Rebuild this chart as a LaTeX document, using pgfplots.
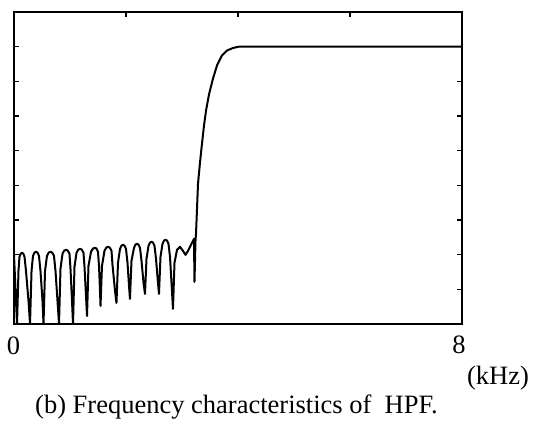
\documentclass[border=0pt]{standalone}
\usepackage{pgfplots}
\pgfplotsset{compat=1.18}
\usepackage{fontspec}
\setmainfont{Liberation Serif}
\begin{document}
\begin{tikzpicture}
\useasboundingbox (0,0) rectangle (533bp,421bp);
\begin{axis}[
  scale only axis,
  width=448bp, height=312bp,
  at={(14bp,97bp)}, anchor=south west,
  xmin=0, xmax=8, ymin=0, ymax=9,
  xtick={2,4,6}, xticklabels={},
  ytick={1,2,3,4,5,6,7,8}, yticklabels={},
  xtick pos=upper, ytick pos=both,
  tick align=inside,
  major tick length=5bp,
  axis line style={line width=2bp},
  every tick/.style={black, line width=1.5bp},
  clip=true,
]
\addplot[black, line width=2bp, line join=round] coordinates {
(0,1.994) (0.036,0.665) (0.054,0) (0.080,1.532) (0.098,1.936) (0.120,2.030) (0.143,2.052) (0.166,2.030) (0.188,1.936) (0.214,1.532) (0.259,0.665) (0.286,0)
(0.313,1.532) (0.339,1.965) (0.366,2.060) (0.393,2.081) (0.420,2.060) (0.446,1.965) (0.473,1.532) (0.509,0.665) (0.527,0)
(0.554,1.532) (0.589,1.965) (0.620,2.060) (0.652,2.081) (0.683,2.060) (0.714,1.965) (0.741,1.532) (0.777,0.665) (0.804,0)
(0.830,1.590) (0.866,2.023) (0.897,2.118) (0.929,2.139) (0.960,2.118) (0.991,2.023) (1.009,1.590) (1.036,0.665) (1.054,0)
(1.080,1.647) (1.116,2.052) (1.148,2.147) (1.179,2.168) (1.210,2.147) (1.241,2.052) (1.259,1.647) (1.286,0.809) (1.304,0.231)
(1.330,1.676) (1.375,2.081) (1.410,2.176) (1.446,2.197) (1.473,2.176) (1.500,2.081) (1.518,1.676) (1.536,0.954) (1.545,0.520)
(1.571,1.676) (1.616,2.110) (1.648,2.205) (1.679,2.225) (1.710,2.205) (1.741,2.110) (1.759,1.705) (1.804,0.954) (1.830,0.607)
(1.857,1.763) (1.893,2.168) (1.920,2.262) (1.946,2.283) (1.973,2.262) (2.000,2.168) (2.027,1.763) (2.054,1.098) (2.071,0.723)
(2.098,1.821) (2.143,2.197) (2.170,2.291) (2.196,2.312) (2.223,2.291) (2.250,2.197) (2.277,1.821) (2.313,1.185) (2.339,0.867)
(2.366,1.879) (2.402,2.254) (2.429,2.349) (2.455,2.370) (2.482,2.349) (2.509,2.254) (2.536,1.879) (2.571,1.185) (2.589,0.867)
(2.616,1.936) (2.652,2.312) (2.679,2.407) (2.705,2.428) (2.732,2.407) (2.759,2.312) (2.786,1.936) (2.821,0.954) (2.839,0.434)
(2.866,1.763) (2.911,2.139) (2.964,2.225) (3.018,2.110) (3.063,1.994) (3.107,2.110) (3.161,2.283) (3.196,2.399) (3.214,2.457) (3.223,1.214) (3.241,2.399) (3.250,2.601) (3.268,3.324) (3.286,4.046) (3.321,4.653) (3.357,5.202) (3.393,5.723) (3.429,6.156) (3.482,6.618) (3.554,7.081) (3.625,7.457) (3.714,7.746) (3.804,7.890) (3.911,7.962) (4.018,8) (8,8)
};
\end{axis}
\begin{scope}[every node/.style={font=\fontsize{26.5bp}{30bp}\selectfont, inner sep=0pt}]
\node at (13.5bp,75bp) {0};
\node at (459bp,76bp) {8};
\node at (498bp,43bp) {(kHz)};
\node[anchor=base] at (236.5bp,8bp) {(b) Frequency characteristics of\ \ HPF.};
\end{scope}
\end{tikzpicture}
\end{document}
